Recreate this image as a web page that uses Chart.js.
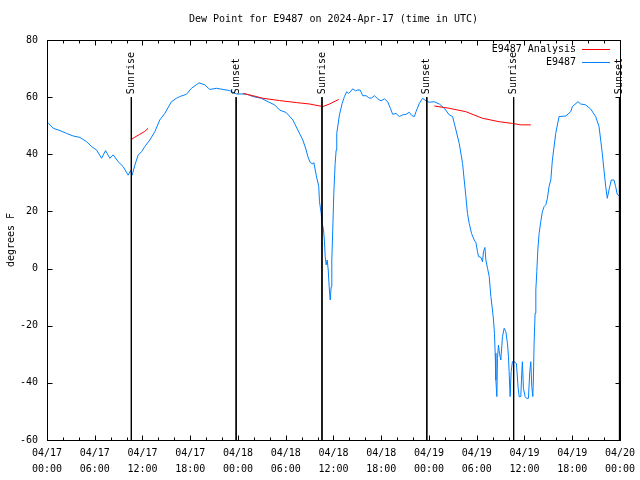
<!DOCTYPE html>
<html>
<head>
<meta charset="utf-8">
<script src="https://cdn.jsdelivr.net/npm/chart.js@4/dist/chart.umd.min.js"></script>
<style>
html,body{margin:0;padding:0;background:#fff;}
#wrap{width:640px;height:480px;position:relative;}
</style>
</head>
<body>
<div id="wrap"><canvas id="c" width="640" height="480"></canvas></div>
<script>
const FONT = "'DejaVu Sans Mono', 'Liberation Mono', monospace";
const chartTitle = 'Dew Point for E9487 on 2024-Apr-17 (time in UTC)';
const yAxisTitle = 'degrees F';
const seriesNames = ['E9487 Analysis', 'E9487'];

// hours since 04/17 00:00 UTC
const obsHours = [0.13,0.79,1.63,2.47,3.30,4.14,4.98,5.61,6.23,6.86,7.36,7.90,8.32,8.94,9.57,10.20,10.50,10.70,11.04,11.45,11.88,12.29,12.92,13.55,14.17,14.80,15.64,16.27,16.68,17.52,18.15,19.10,19.82,20.45,21.29,22.11,22.95,23.80,25.05,25.88,26.93,27.76,28.60,29.23,30.07,30.90,31.52,32.15,32.57,32.78,33.08,33.40,33.53,33.83,34.15,34.24,34.46,34.53,34.75,34.87,34.96,35.08,35.21,35.34,35.46,35.59,35.71,35.79,35.91,36.04,36.21,36.34,36.41,36.75,37.09,37.38,37.67,37.92,38.22,38.42,38.76,39.05,39.35,39.68,40.10,40.43,40.73,41.14,41.56,41.98,42.40,42.81,43.15,43.44,43.86,44.28,44.69,45.12,45.53,45.87,46.16,46.37,46.79,47.20,47.63,48.04,48.67,49.30,49.92,50.55,50.97,51.39,51.80,52.22,52.43,52.64,52.84,53.06,53.35,53.69,53.90,54.10,54.23,54.53,54.73,54.85,55.03,55.15,55.36,55.57,55.78,55.98,56.11,56.23,56.32,56.41,56.53,56.61,56.73,56.86,57.03,57.24,57.45,57.66,57.86,57.99,58.07,58.20,58.33,58.49,58.70,58.99,59.21,59.33,59.54,59.67,59.74,59.87,60.08,60.25,60.50,60.67,60.80,60.92,61.05,61.12,61.21,61.34,61.43,61.55,61.68,61.84,62.05,62.25,62.47,62.68,62.88,63.09,63.31,63.51,63.93,64.35,65.19,65.81,66.02,66.73,67.07,67.70,68.33,68.95,69.37,69.58,69.78,69.99,70.21,70.41,70.62,70.91,71.25,71.46,71.66,71.87];
const obsValues = [51.0,49.1,48.3,47.3,46.4,45.9,44.4,42.7,41.5,38.6,41.3,38.6,39.8,37.4,35.7,32.7,34.3,32.7,36.2,39.7,40.9,42.7,45.0,47.9,52.0,54.3,58.4,59.6,60.2,61.0,63.1,65.0,64.3,62.7,63.1,62.7,62.3,61.1,61.1,60.2,59.6,58.4,57.3,55.5,54.6,52.0,48.5,45.0,41.5,39.2,37.1,36.6,37.1,32.7,28.7,23.4,19.3,16.4,13.5,9.4,4.2,1.3,3.0,-0.5,-6.4,-11.0,-6.4,3.0,13.5,26.3,36.8,41.5,47.3,53.8,57.8,60.2,61.9,61.3,62.2,62.9,62.2,62.5,62.5,60.5,60.5,59.8,59.6,60.5,59.4,58.7,59.4,58.4,56.1,54.0,54.3,53.2,53.8,54.0,54.7,53.5,53.2,54.9,57.8,59.6,58.7,58.2,58.4,57.6,56.1,53.8,53.2,48.5,43.8,36.8,31.0,25.2,19.3,15.8,12.3,10.0,9.1,5.9,4.2,3.9,2.4,5.9,7.4,3.0,0.1,-2.8,-9.8,-14.5,-18.0,-22.7,-29.6,-39.0,-44.8,-31.4,-26.8,-29.6,-32.0,-23.8,-20.9,-22.1,-26.1,-30.8,-36.0,-44.8,-36.0,-32.6,-32.6,-33.2,-41.9,-44.8,-44.8,-36.0,-32.6,-41.9,-44.8,-45.4,-45.4,-36.0,-32.6,-41.3,-44.8,-39.0,-26.1,-15.6,-7.5,-1.1,6.5,12.3,16.4,19.9,21.7,22.3,24.6,28.7,31.0,38.0,47.3,53.2,53.4,54.9,56.7,58.4,57.6,57.3,55.8,53.2,49.7,45.0,40.3,34.5,28.7,24.6,27.5,31.0,31.0,28.7,26.0,25.5];

// analysis series, null marks a gap
const anaHours = [10.62,11.04,11.66,12.29,12.71, 18.0, 24.62,25.88,27.13,29.23,31.32,32.99,34.66,35.50,36.66, 42.0, 48.67,50.55,52.64,54.73,56.82,58.49,59.54,60.80];
const anaValues = [45.2,46.0,47.0,48.0,49.1, null, 61.3,60.5,59.6,58.8,58.1,57.6,56.7,57.6,59.2, null, 56.9,56.1,54.9,52.6,51.4,50.8,50.3,50.3];

const sunHours = [10.599, 23.770, 34.557, 47.728, 58.641, 71.937];
const sunNames = ['Sunrise','Sunset','Sunrise','Sunset','Sunrise','Sunset'];

const xTickDates = ['04/17','04/17','04/17','04/17','04/18','04/18','04/18','04/18','04/19','04/19','04/19','04/19','04/20'];
const xTickTimes = ['00:00','06:00','12:00','18:00','00:00','06:00','12:00','18:00','00:00','06:00','12:00','18:00','00:00'];
const yTickValues = [-60,-40,-20,0,20,40,60,80];

const RED = '#ff0000';
const BLUE = 'rgb(0,128,255)';

const datasets = [];
sunHours.forEach((h, i) => {
  datasets.push({
    label: sunNames[i],
    data: [{x: h, y: 60}, {x: h, y: -60}],
    borderColor: '#000', borderWidth: 1, pointRadius: 0, order: 0
  });
});
datasets.push({
  label: seriesNames[0],
  data: anaHours.map((h, i) => ({x: h, y: anaValues[i]})),
  borderColor: RED, borderWidth: 1, pointRadius: 0, spanGaps: false, order: 1
});
datasets.push({
  label: seriesNames[1],
  data: obsHours.map((h, i) => ({x: h, y: obsValues[i]})),
  borderColor: BLUE, borderWidth: 1, pointRadius: 0, order: 2
});

const deco = {
  id: 'deco',
  afterDraw(chart) {
    const {ctx, chartArea: a, scales: {x, y}} = chart;
    ctx.save();
    ctx.strokeStyle = '#000';
    ctx.lineWidth = 1;
    const L = Math.round(a.left) + 0.5, R = Math.round(a.right) + 0.5;
    const T = Math.round(a.top) + 0.5, B = Math.round(a.bottom) + 0.5;
    ctx.strokeRect(L, T, R - L, B - T);
    ctx.beginPath();
    for (let h = 2; h < 72; h += 2) {
      const px = Math.round(x.getPixelForValue(h)) + 0.5;
      const len = (h % 6 === 0) ? 5 : 3;
      ctx.moveTo(px, B); ctx.lineTo(px, B - len);
      ctx.moveTo(px, T); ctx.lineTo(px, T + len);
    }
    yTickValues.forEach(v => {
      const py = Math.round(y.getPixelForValue(v)) + 0.5;
      ctx.moveTo(L, py); ctx.lineTo(L + 5, py);
      ctx.moveTo(R, py); ctx.lineTo(R - 5, py);
    });
    ctx.stroke();

    ctx.fillStyle = '#000';
    ctx.font = '10px ' + FONT;
    ctx.textAlign = 'center';
    ctx.textBaseline = 'middle';
    ctx.fillText(chartTitle, (a.left + a.right) / 2, 19);

    // sunrise / sunset labels
    sunHours.forEach((h, i) => {
      const px = x.getPixelForValue(h);
      const py = y.getPixelForValue(60) - 3;
      ctx.save();
      ctx.translate(px, py);
      ctx.rotate(-Math.PI / 2);
      ctx.textAlign = 'left';
      ctx.textBaseline = 'middle';
      ctx.fillText(sunNames[i], 0, 0);
      ctx.restore();
    });

    // legend
    const colors = [RED, BLUE];
    seriesNames.forEach((n, i) => {
      const ly = 49 + i * 13;
      ctx.fillStyle = '#000';
      ctx.textAlign = 'right';
      ctx.fillText(n, 576, ly);
      ctx.strokeStyle = colors[i];
      ctx.beginPath();
      ctx.moveTo(582, ly + 0.5); ctx.lineTo(610, ly + 0.5);
      ctx.stroke();
    });
    ctx.restore();
  }
};

new Chart(document.getElementById('c'), {
  type: 'line',
  data: {datasets},
  options: {
    responsive: false,
    animation: false,
    events: [],
    layout: {padding: {top: 40, right: 19, left: 0, bottom: 0}},
    plugins: {legend: {display: false}, title: {display: false}, tooltip: {enabled: false}},
    elements: {line: {tension: 0}},
    scales: {
      x: {
        type: 'linear', min: 0, max: 72,
        afterFit(s) { s.height = 40; },
        grid: {display: false, drawTicks: false},
        border: {display: false},
        ticks: {
          stepSize: 6, autoSkip: false, maxRotation: 0, padding: 5, color: '#000',
          font: {family: FONT, size: 10, lineHeight: 1.6},
          callback: (v, i) => [xTickDates[i], xTickTimes[i]]
        }
      },
      y: {
        type: 'linear', min: -60, max: 80,
        afterFit(s) { s.width = 47; },
        grid: {display: false, drawTicks: false},
        border: {display: false},
        ticks: {stepSize: 20, padding: 9, color: '#000', font: {family: FONT, size: 10},
          callback: (v) => String(v)},
        title: {display: true, text: yAxisTitle, color: '#000', font: {family: FONT, size: 10}, padding: {top: 5, bottom: 0}}
      }
    }
  },
  plugins: [deco]
});
</script>
</body>
</html>
